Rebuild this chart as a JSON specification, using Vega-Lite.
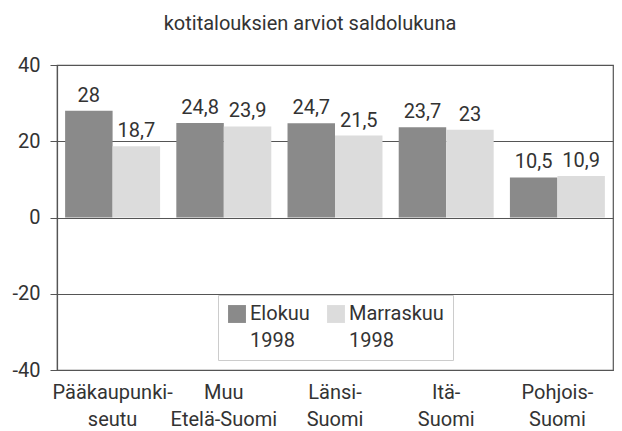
{
  "$schema": "https://vega.github.io/schema/vega-lite/v6.json",
  "width": 556,
  "height": 305,
  "autosize": {"type": "none"},
  "padding": {"left": 57, "top": 65, "right": 9, "bottom": 61},
  "background": "white",
  "title": {
    "text": "kotitalouksien arviot saldolukuna",
    "font": "Roboto",
    "fontSize": 20,
    "fontWeight": "normal",
    "color": "#333333",
    "anchor": "middle",
    "dx": -25,
    "offset": 21
  },
  "config": {
    "view": {"stroke": "#555555", "strokeWidth": 1.2},
    "font": "Roboto"
  },
  "data": {
    "values": [
      {"alue": "Pääkaupunki-|seutu", "kausi": "Elokuu|1998", "arvo": 28},
      {"alue": "Pääkaupunki-|seutu", "kausi": "Marraskuu|1998", "arvo": 18.7},
      {"alue": "Muu|Etelä-Suomi", "kausi": "Elokuu|1998", "arvo": 24.8},
      {"alue": "Muu|Etelä-Suomi", "kausi": "Marraskuu|1998", "arvo": 23.9},
      {"alue": "Länsi-|Suomi", "kausi": "Elokuu|1998", "arvo": 24.7},
      {"alue": "Länsi-|Suomi", "kausi": "Marraskuu|1998", "arvo": 21.5},
      {"alue": "Itä-|Suomi", "kausi": "Elokuu|1998", "arvo": 23.7},
      {"alue": "Itä-|Suomi", "kausi": "Marraskuu|1998", "arvo": 23},
      {"alue": "Pohjois-|Suomi", "kausi": "Elokuu|1998", "arvo": 10.5},
      {"alue": "Pohjois-|Suomi", "kausi": "Marraskuu|1998", "arvo": 10.9}
    ]
  },
  "transform": [
    {"calculate": "replace(toString(datum.arvo), '.', ',')", "as": "teksti"}
  ],
  "encoding": {
    "x": {
      "field": "alue",
      "type": "nominal",
      "sort": null,
      "scale": {"paddingInner": 0.146, "paddingOuter": 0.073},
      "axis": {
        "title": null,
        "labelAngle": 0,
        "domain": false,
        "ticks": false,
        "labelExpr": "split(datum.label, '|')",
        "labelFont": "Roboto",
        "labelFontSize": 20,
        "labelLineHeight": 27,
        "labelPadding": 12,
        "labelColor": "#333333"
      }
    },
    "xOffset": {
      "field": "kausi",
      "type": "nominal",
      "sort": null,
      "scale": {"paddingInner": 0, "paddingOuter": 0}
    },
    "y": {
      "field": "arvo",
      "type": "quantitative",
      "scale": {"domain": [-40, 40], "nice": false},
      "axis": {
        "title": null,
        "values": [-40, -20, 0, 20, 40],
        "labelExpr": "toString(datum.value)",
        "grid": true,
        "gridColor": "#555555",
        "gridWidth": 1.2,
        "domainColor": "#555555",
        "domainWidth": 1.2,
        "tickColor": "#555555",
        "tickSize": 7,
        "labelPadding": 10,
        "labelFont": "Roboto",
        "labelFontSize": 20,
        "labelColor": "#333333"
      }
    }
  },
  "layer": [
    {
      "mark": {"type": "bar"},
      "encoding": {
        "color": {
          "field": "kausi",
          "type": "nominal",
          "sort": null,
          "scale": {"range": ["#8a8a8a", "#dcdcdc"]},
          "legend": {
            "title": null,
            "orient": "none",
            "legendX": 161,
            "legendY": 230,
            "direction": "horizontal",
            "columns": 2,
            "symbolType": "square",
            "symbolSize": 320,
            "symbolStrokeWidth": 0,
            "labelExpr": "split(datum.label, '|')",
            "labelFont": "Roboto",
            "labelFontSize": 20,
            "labelColor": "#333333",
            "labelLimit": 300,
            "labelOffset": 3,
            "columnPadding": 16,
            "padding": 9,
            "fillColor": "white",
            "strokeColor": "#cccccc",
            "encode": {
              "labels": {"update": {"lineHeight": {"value": 27}}}
            }
          }
        }
      }
    },
    {
      "mark": {"type": "text", "dy": -9, "baseline": "alphabetic", "fontSize": 20, "font": "Roboto", "color": "#333333"},
      "encoding": {"text": {"field": "teksti", "type": "nominal"}}
    }
  ]
}
